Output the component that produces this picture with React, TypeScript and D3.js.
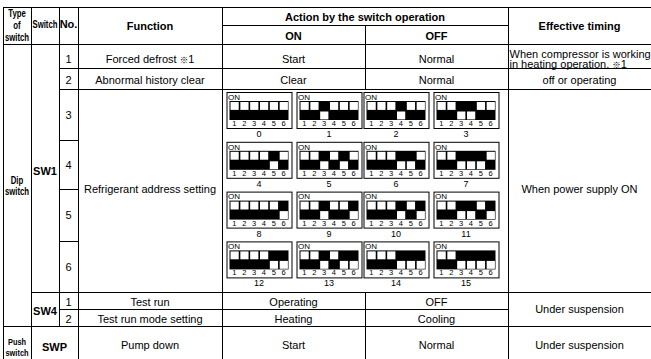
import React from "react";
import * as d3 from "d3";

// ---- data ----
const headerTypeLines = ["Type", "of", "switch"];
const headerLabels = { sw: "Switch", no: "No.", fn: "Function", action: "Action by the switch operation", on: "ON", off: "OFF", timing: "Effective timing" };
const switchTypes = [["Dip", "switch"], ["Push", "switch"]];
const switchNames = ["SW1", "SW4", "SWP"];
const sw1Numbers = ["1", "2", "3", "4", "5", "6"];
const sw4Numbers = ["1", "2"];
const functionNames = ["Forced defrost ※1", "Abnormal history clear", "Refrigerant address setting", "Test run", "Test run mode setting", "Pump down"];
const onActions = ["Start", "Clear", "Operating", "Heating", "Start"];
const offActions = ["Normal", "Normal", "OFF", "Cooling", "Normal"];
const timings = ["off or operating", "When power supply ON", "Under suspension", "Under suspension"];
const timingNote = ["When compressor is working", "in heating operation. ※1"];
// switch pattern per address: "1" = ON (switches 1..6)
const dipPatterns = [
  "000000", "001000", "000100", "001100",
  "000010", "001010", "000110", "001110",
  "000001", "001001", "000101", "001101",
  "000011", "001011", "000111", "001111",
];
const dipLabels = ["0", "1", "2", "3", "4", "5", "6", "7", "8", "9", "10", "11", "12", "13", "14", "15"];
const dipSwitchNums = ["1", "2", "3", "4", "5", "6"];

// ---- layout ----
const W = 651, H = 359;
const FONT = "'Liberation Sans', Arial, Helvetica, sans-serif";
const CJK = "'Noto Sans CJK JP', sans-serif";
const X = { a: 3, b: 31, c: 59, d: 78, e: 222, f: 365, g: 508, h: 651 };
const Y = { top: 7, hMid: 25, hBot: 44, r1: 68, r2: 89, r3: 140, r4: 189, r5: 241, r6: 292, s1: 309, s2: 326, bot: 370 };

const hLines: [number, number, number][] = [
  [Y.top, X.a, X.h], [Y.hMid, X.e, X.g], [Y.hBot, X.a, X.h], [Y.r1, X.c, X.h], [Y.r2, X.c, X.h],
  [Y.r3, X.c, X.d], [Y.r4, X.c, X.d], [Y.r5, X.c, X.d], [Y.r6, X.b, X.h], [Y.s1, X.c, X.g], [Y.s2, X.a, X.h],
];
const vLines: [number, number, number][] = [
  [X.a, Y.top, Y.bot], [X.b, Y.top, Y.bot], [X.c, Y.top, Y.s2], [X.d, Y.top, Y.bot], [X.e, Y.top, Y.bot],
  [X.f, Y.hMid, Y.r2], [X.f, Y.r6, Y.bot], [X.g, Y.top, Y.bot],
];

const dipCenters = [259, 329, 396, 466];
const dipTop0 = 92;
const dipPitch = 49.8;
const BOX_W = 65, BOX_H = 36;

function withMark(s: string) {
  const parts = s.split("※");
  if (parts.length === 1) return s;
  return (
    <>
      {parts[0]}
      <tspan fontFamily={CJK} fontSize={8.5}>※</tspan>
      {parts[1]}
    </>
  );
}

function T({ x, y, children, bold = false, size = 11, anchor = "middle" }: any) {
  return (
    <text x={x} y={y} fontFamily={FONT} fontSize={size} fontWeight={bold ? "bold" : "normal"} textAnchor={anchor} fill="#000">
      {typeof children === "string" ? withMark(children) : children}
    </text>
  );
}

function Narrow({ x, y, children, size = 10, sx = 0.78 }: any) {
  return (
    <text transform={`translate(${x},${y}) scale(${sx},1)`} fontFamily={FONT} fontSize={size} fontWeight="bold" textAnchor="middle" fill="#000">
      {children}
    </text>
  );
}

function Dip({ cx, top, pattern, label }: any) {
  const bx = cx - BOX_W / 2;
  const sx0 = bx + 3, sw = BOX_W - 6;
  const band = d3.scaleBand<string>().domain(dipSwitchNums).range([sx0, sx0 + sw]).paddingInner(0);
  const st = top + 9, half = 9.5;
  return (
    <g>
      <rect x={bx + 0.5} y={top + 0.5} width={BOX_W} height={BOX_H} fill="#fff" stroke="#000" strokeWidth={1} />
      <text x={bx + 1.5} y={top + 7.8} fontFamily={FONT} fontSize={8} fill="#000">ON</text>
      <rect x={sx0} y={st} width={sw} height={half * 2} fill="#000" />
      {dipSwitchNums.map((n, i) => {
        const on = pattern[i] === "1";
        const x = band(n)!;
        return (
          <g key={n}>
            <rect x={x + 1} y={(on ? st + half : st) + 1} width={band.bandwidth() - 1.6} height={half - 1.6} fill="#fff" />
            <text x={x + band.bandwidth() / 2} y={top + 34} fontFamily={FONT} fontSize={7.5} textAnchor="middle" fill="#000">{n}</text>
          </g>
        );
      })}
      <text x={cx} y={top + 45} fontFamily={FONT} fontSize={9} textAnchor="middle" fill="#000">{label}</text>
    </g>
  );
}

export default function App() {
  const colMid = (a: number, b: number) => (a + b) / 2;
  const fnX = colMid(X.d, X.e), onX = colMid(X.e, X.f), offX = colMid(X.f, X.g), tX = colMid(X.g, X.h), noX = colMid(X.c, X.d);
  return (
    <svg width={W} height={H} style={{ position: "absolute", left: 0, top: 0, background: "#fff" }}>
      <rect x={0} y={0} width={W} height={H} fill="#fff" />
      {/* header */}
      {headerTypeLines.map((t, i) => <Narrow key={t} x={colMid(X.a, X.b)} y={[16.5, 28.5, 41][i]}>{t}</Narrow>)}
      <Narrow x={colMid(X.b, X.c)} y={28}>{headerLabels.sw}</Narrow>
      <T x={noX} y={28} bold>{headerLabels.no}</T>
      <T x={fnX} y={30} bold>{headerLabels.fn}</T>
      <T x={colMid(X.e, X.g)} y={20.5} bold>{headerLabels.action}</T>
      <T x={onX} y={39.5} bold>{headerLabels.on}</T>
      <T x={offX} y={39.5} bold>{headerLabels.off}</T>
      <T x={tX} y={30} bold>{headerLabels.timing}</T>

      {/* type of switch */}
      <Narrow x={colMid(X.a, X.b)} y={183.5}>{switchTypes[0][0]}</Narrow>
      <Narrow x={colMid(X.a, X.b)} y={194.5}>{switchTypes[0][1]}</Narrow>
      <Narrow x={colMid(X.a, X.b)} y={345} size={9.5}>{switchTypes[1][0]}</Narrow>
      <Narrow x={colMid(X.a, X.b)} y={355.5} size={9.5}>{switchTypes[1][1]}</Narrow>

      {/* switch names */}
      <T x={colMid(X.b, X.c)} y={175} bold>{switchNames[0]}</T>
      <T x={colMid(X.b, X.c)} y={315} bold>{switchNames[1]}</T>
      <T x={colMid(X.b, X.d)} y={350.5} bold>{switchNames[2]}</T>

      {/* numbers */}
      {sw1Numbers.map((n, i) => {
        const bounds = [Y.hBot, Y.r1, Y.r2, Y.r3, Y.r4, Y.r5, Y.r6];
        const y = i < 2 ? bounds[i + 1] - 5.5 : colMid(bounds[i], bounds[i + 1]) + 4;
        return <T key={"n" + n} x={noX} y={y}>{n}</T>;
      })}
      {sw4Numbers.map((n, i) => <T key={"m" + n} x={noX} y={[305.5, 322.5][i]}>{n}</T>)}

      {/* functions */}
      {functionNames.map((f, i) => <T key={f} x={fnX} y={[63, 83.5, 193, 305.5, 322.5, 349][i]}>{f}</T>)}
      {onActions.map((f, i) => <T key={"on" + i} x={onX} y={[63, 83.5, 305.5, 322.5, 349][i]}>{f}</T>)}
      {offActions.map((f, i) => <T key={"off" + i} x={offX} y={[63, 83.5, 305.5, 322.5, 349][i]}>{f}</T>)}

      {/* timings */}
      <T x={X.g + 1.5} y={57.5} anchor="start">{timingNote[0]}</T>
      <T x={X.g + 1.5} y={68} anchor="start">{timingNote[1]}</T>
      {timings.map((t, i) => <T key={"t" + i} x={tX} y={[83.5, 193, 313, 349][i]}>{t}</T>)}

      {/* dip diagrams */}
      {dipPatterns.map((p, i) => (
        <Dip key={i} cx={dipCenters[i % 4]} top={dipTop0 + Math.floor(i / 4) * dipPitch} pattern={p} label={dipLabels[i]} />
      ))}

      {/* grid lines */}
      {hLines.map(([y, x1, x2], i) => <line key={"h" + i} x1={x1} x2={x2} y1={y + 0.5} y2={y + 0.5} stroke="#000" strokeWidth={1} />)}
      {vLines.map(([x, y1, y2], i) => <line key={"v" + i} x1={x + 0.5} x2={x + 0.5} y1={y1} y2={y2} stroke="#000" strokeWidth={1} />)}
    </svg>
  );
}
